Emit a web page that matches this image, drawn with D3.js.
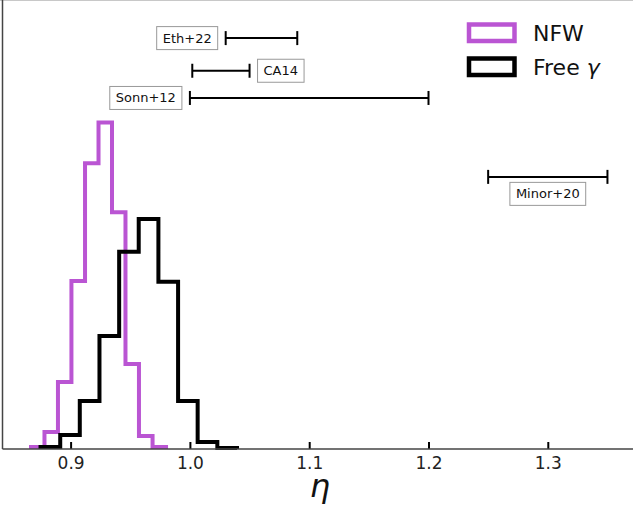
<!DOCTYPE html>
<html>
<head>
<meta charset="utf-8">
<script src="https://cdn.jsdelivr.net/npm/d3@7"></script>
<style>
  html, body { margin: 0; padding: 0; background: #fff; }
  svg { display: block; font-family: "DejaVu Sans", sans-serif; }
</style>
</head>
<body>
<svg id="chart" width="633" height="509"></svg>
<script>
// ---- data ----
const nfwEdges  = [0.8668, 0.8781, 0.8894, 0.9007, 0.9121, 0.9234, 0.9347, 0.9460, 0.9573, 0.9687, 0.9800];
const nfwDens   = [0.15, 1.25, 4.93, 12.35, 21.0, 24.0, 17.4, 6.25, 0.96, 0.15];
const freeEdges = [0.8748, 0.8913, 0.9077, 0.9242, 0.9407, 0.9571, 0.9736, 0.9901, 1.0065, 1.0230, 1.0395];
const freeDens  = [0.15, 1.03, 3.53, 8.31, 14.5, 16.9, 12.3, 3.53, 0.51, 0.07];

const refNames = ["Eth+22", "CA14", "Sonn+12", "Minor+20"];
const refLo    = [1.03, 1.002, 1.00, 1.25];
const refHi    = [1.09, 1.05, 1.20, 1.35];
const refLevel = [30.2, 27.8, 25.8, 20.0];
const refSide  = ["left", "right", "left", "below"];

const xTicks = [0.9, 1.0, 1.1, 1.2, 1.3];
const legendNames = ["NFW", "Free γ"];
const colors = ["#BA55D3", "#000000"];

// ---- layout ----
const svg = d3.select("#chart");
const x = d3.scaleLinear().domain([0.9, 1.3]).range([70.6, 547.8]);
const y = d3.scaleLinear().domain([0, 33]).range([449, 0]);
const axLeft = 2.5, axBottom = 449, W = 633;

// top frame line (light)
svg.append("line").attr("x1", 0).attr("x2", W).attr("y1", 0.5).attr("y2", 0.5)
  .attr("stroke", "#c8c8c8").attr("stroke-width", 1.2);

// histograms (step)
function stepPath(edges, dens) {
  const pts = [[x(edges[0]), y(0)]];
  dens.forEach((d, i) => {
    pts.push([x(edges[i]), y(d)]);
    pts.push([x(edges[i + 1]), y(d)]);
  });
  pts.push([x(edges[edges.length - 1]), y(0)]);
  return d3.line()(pts);
}
svg.append("path").attr("d", stepPath(nfwEdges, nfwDens))
  .attr("fill", "none").attr("stroke", colors[0]).attr("stroke-width", 4).attr("stroke-linejoin", "miter");
svg.append("path").attr("d", stepPath(freeEdges, freeDens))
  .attr("fill", "none").attr("stroke", colors[1]).attr("stroke-width", 4).attr("stroke-linejoin", "miter");

// axes
const xAxis = d3.axisBottom(x).tickValues(xTicks).tickFormat(d3.format(".1f"))
  .tickSizeInner(-7).tickSizeOuter(0).tickPadding(12);
const gx = svg.append("g").attr("transform", `translate(0,${axBottom})`).call(xAxis);
gx.select(".domain").remove();
gx.selectAll(".tick line").attr("stroke", "#000").attr("stroke-width", 2);
gx.selectAll(".tick text").attr("font-size", 17).attr("fill", "#222")
  .attr("font-family", "DejaVu Sans").attr("dy", "0.71em").attr("y", 8);

svg.append("line").attr("x1", axLeft).attr("x2", W).attr("y1", axBottom).attr("y2", axBottom)
  .attr("stroke", "#444").attr("stroke-width", 1.5);
svg.append("line").attr("x1", axLeft).attr("x2", axLeft).attr("y1", 0).attr("y2", axBottom)
  .attr("stroke", "#444").attr("stroke-width", 1.5);

// axis label
svg.append("text").attr("x", 320).attr("y", 497).attr("text-anchor", "middle")
  .attr("font-size", 32).attr("font-style", "italic").attr("font-family", "DejaVu Sans")
  .attr("fill", "#111").text("η");

// reference error bars
const cap = 7;
refNames.forEach((name, i) => {
  const x0 = x(refLo[i]), x1 = x(refHi[i]), yy = y(refLevel[i]);
  const g = svg.append("g");
  g.append("line").attr("x1", x0).attr("x2", x1).attr("y1", yy).attr("y2", yy)
    .attr("stroke", "#000").attr("stroke-width", 2);
  [x0, x1].forEach(cx => g.append("line").attr("x1", cx).attr("x2", cx)
    .attr("y1", yy - cap).attr("y2", yy + cap).attr("stroke", "#000").attr("stroke-width", 2));

  const t = g.append("text").attr("font-size", 13).attr("fill", "#111")
    .attr("font-family", "DejaVu Sans").attr("dominant-baseline", "central").text(name);
  let tx, ty = yy, anchor;
  if (refSide[i] === "left") { tx = x0 - 14; anchor = "end"; }
  else if (refSide[i] === "right") { tx = x1 + 14; anchor = "start"; }
  else { tx = (x0 + x1) / 2; ty = yy + 17; anchor = "middle"; }
  t.attr("x", tx).attr("y", ty).attr("text-anchor", anchor);
  const bb = t.node().getBBox();
  g.insert("rect", "text")
    .attr("x", bb.x - 6).attr("y", ty - 11.5)
    .attr("width", bb.width + 12).attr("height", 23)
    .attr("fill", "#fff").attr("stroke", "#999").attr("stroke-width", 1);
});

// legend
legendNames.forEach((name, i) => {
  const ly = 24.5 + i * 34;
  svg.append("rect").attr("x", 469).attr("y", ly).attr("width", 45.5).attr("height", 16.5)
    .attr("fill", "none").attr("stroke", colors[i]).attr("stroke-width", 4.5);
  const t = svg.append("text").attr("x", 533).attr("y", ly + 16.5).attr("font-size", 22)
    .attr("fill", "#111").attr("font-family", "DejaVu Sans");
  if (name.endsWith("γ")) {
    t.append("tspan").text(name.slice(0, -1));
    t.append("tspan").attr("font-style", "italic").text("γ");
  } else {
    t.text(name);
  }
});
</script>
</body>
</html>
